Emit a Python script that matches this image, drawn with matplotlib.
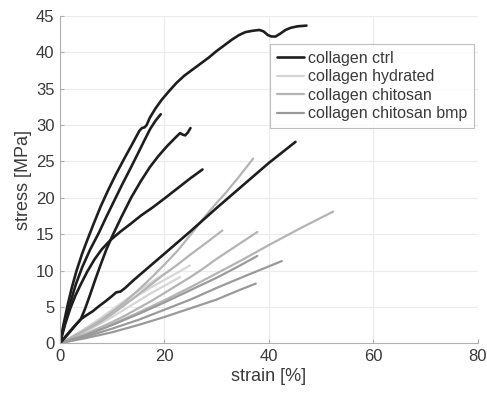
import matplotlib
matplotlib.use("Agg")
import matplotlib.pyplot as plt

plt.rcParams['font.family'] = ['Liberation Sans', 'DejaVu Sans']

# ---- collagen ctrl (strain %, stress MPa) ----
ctrl_a_x = [0, 0.7, 1.5, 2.3, 3.2, 4.2, 5.3, 6.5, 7.8, 9.2, 10.7, 12.4, 13.7, 14.6, 15.2, 15.7,
            16.2, 16.6, 17.2, 18.3, 19.5, 20.8, 22.3, 23.8, 25.3, 27, 28.5, 30, 31.5, 33, 34.3,
            35.5, 37, 38.2, 39, 39.8, 40.5, 41.3, 42.2, 43.2, 44.2, 45.5, 47.2]
ctrl_a_y = [0, 2.6, 5.3, 7.7, 10, 12.2, 14.3, 16.5, 18.8, 21, 23.2, 25.5, 27.2, 28.4, 29.2, 29.6,
            29.7, 30.0, 31.0, 32.3, 33.5, 34.6, 35.8, 36.8, 37.6, 38.5, 39.3, 40.2, 41.0, 41.8, 42.4,
            42.8, 43.0, 43.1, 42.9, 42.4, 42.2, 42.2, 42.6, 43.1, 43.4, 43.6, 43.7]
ctrl_b_x = [0, 0.9, 1.9, 3.0, 4.3, 5.8, 7.4, 8.9, 10.4, 11.9, 13.4, 14.8, 16.1, 17.3, 18.3, 19.3]
ctrl_b_y = [0, 2.6, 5.3, 8, 10.5, 12.9, 15.1, 17.4, 19.6, 21.8, 23.9, 25.9, 27.8, 29.5, 30.6, 31.5]
ctrl_c_x = [0, 2, 4, 4.8, 5.7, 6.7, 7.8, 8.9, 10.2, 11.8, 13.7, 15.5, 17.2, 18.8, 20.5, 22,
            23, 23.5, 24, 24.5, 25]
ctrl_c_y = [0, 1.7, 3.3, 4.7, 6.5, 8.6, 10.8, 12.9, 15, 17.4, 20.1, 22.3, 24.2, 25.7, 27.1, 28.2,
            28.9, 28.7, 28.6, 29.0, 29.6]
ctrl_d_x = [0, 1, 2, 3, 4, 5.2, 6.6, 8, 9.7, 11.5, 13.5, 15.6, 17.8, 20, 22.5, 25, 27.3]
ctrl_d_y = [0, 2.6, 4.8, 6.6, 8.1, 9.8, 11.5, 12.9, 14.2, 15.3, 16.4, 17.6, 18.7, 19.9, 21.3,
            22.7, 23.9]
ctrl_e_x = [0, 1.5, 3, 4, 5, 6.3, 7.5, 8.8, 10.0, 10.8, 11.6, 12.5, 14, 16.1, 20, 25, 30, 35,
            40, 45.1]
ctrl_e_y = [0, 1.2, 2.5, 3.3, 3.8, 4.4, 5.1, 5.8, 6.5, 7.0, 7.1, 7.6, 8.6, 9.9, 12.3, 15.4,
            18.6, 21.7, 24.8, 27.7]

# ---- collagen hydrated ----
hyd_a_x = [0, 2.5, 5, 7.5, 10, 12.5, 15, 17.5, 20, 22.5, 24.9]
hyd_a_y = [0, 0.9, 1.9, 3.0, 4.2, 5.4, 6.6, 7.7, 8.7, 9.7, 10.7]
hyd_b_x = [0, 2.5, 5, 7.5, 10, 12.5, 15, 17.5, 20, 23]
hyd_b_y = [0, 0.7, 1.6, 2.6, 3.6, 4.7, 5.8, 6.9, 7.9, 9.1]
hyd_c_x = [0, 2.5, 5, 7.5, 10, 12.5, 15, 18, 21]
hyd_c_y = [0, 1.0, 2.1, 3.3, 4.6, 5.9, 7.2, 8.6, 10.0]

# ---- collagen chitosan ----
chi_a_x = [0, 2.5, 5, 7.5, 10, 12.5, 15, 17.5, 20, 22.5, 25, 27.4, 29.5, 32, 34.5, 37]
chi_a_y = [0, 0.9, 1.9, 3.0, 4.3, 5.7, 7.3, 9.0, 10.8, 12.7, 14.9, 17.1, 18.9, 20.9, 23.1, 25.4]
chi_b_x = [0, 2.5, 5, 7.5, 10, 12.5, 15, 17.5, 20, 22.5, 25, 28, 31.1]
chi_b_y = [0, 0.8, 1.8, 2.8, 4.0, 5.3, 6.7, 8.1, 9.5, 10.8, 12.2, 13.8, 15.5]
chi_c_x = [0, 2.5, 5, 7.5, 10, 12.5, 15, 17.5, 20, 22.5, 25, 27.5, 30, 34, 37.8]
chi_c_y = [0, 0.6, 1.3, 2.1, 2.9, 3.8, 4.8, 5.8, 6.9, 8.0, 9.1, 10.3, 11.6, 13.5, 15.3]
chi_d_x = [0, 5, 10, 15, 20, 25, 30, 35, 40, 46, 52.3]
chi_d_y = [0, 1.1, 2.6, 4.2, 5.9, 7.7, 9.6, 11.5, 13.5, 15.8, 18.1]

# ---- collagen chitosan bmp ----
bmp_a_x = [0, 5, 10, 15, 20, 25, 30, 34, 37.8]
bmp_a_y = [0, 1.1, 2.5, 4.0, 5.6, 7.3, 9.0, 10.5, 12.0]
bmp_b_x = [0, 5, 10, 15, 20, 25, 30, 36, 42.5]
bmp_b_y = [0, 0.9, 2.0, 3.2, 4.6, 6.0, 7.6, 9.4, 11.3]
bmp_c_x = [0, 5, 10, 15, 20, 25, 30, 34, 37.5]
bmp_c_y = [0, 0.7, 1.5, 2.5, 3.6, 4.8, 6.0, 7.2, 8.2]

groups = [
    ("collagen ctrl", "#1e1e1e",
     [(ctrl_a_x, ctrl_a_y), (ctrl_b_x, ctrl_b_y), (ctrl_c_x, ctrl_c_y),
      (ctrl_d_x, ctrl_d_y), (ctrl_e_x, ctrl_e_y)]),
    ("collagen hydrated", "#d6d6d6",
     [(hyd_a_x, hyd_a_y), (hyd_b_x, hyd_b_y), (hyd_c_x, hyd_c_y)]),
    ("collagen chitosan", "#b4b4b4",
     [(chi_a_x, chi_a_y), (chi_b_x, chi_b_y), (chi_c_x, chi_c_y), (chi_d_x, chi_d_y)]),
    ("collagen chitosan bmp", "#9a9a9a",
     [(bmp_a_x, bmp_a_y), (bmp_b_x, bmp_b_y), (bmp_c_x, bmp_c_y)]),
]

fig = plt.figure(figsize=(4.87, 3.94), dpi=100)
ax = fig.add_axes([0.123, 0.129, 0.858, 0.830])

# gray groups first, ctrl drawn on top
handles = {}
for label, color, curves in groups[1:] + groups[:1]:
    for i, (xs, ys) in enumerate(curves):
        ln, = ax.plot(xs, ys, color=color, lw=1.9 if label == "collagen ctrl" else 1.6,
                      solid_capstyle='round', solid_joinstyle='round')
        if i == 0:
            handles[label] = ln

ax.set_xlim(0, 80)
ax.set_ylim(0, 45)
ax.set_xticks([0, 20, 40, 60, 80])
ax.set_yticks(range(0, 46, 5))
ax.grid(True, color="#ebebeb", lw=0.8)
ax.set_axisbelow(True)
for side in ("top", "right"):
    ax.spines[side].set_visible(False)
for side in ("left", "bottom"):
    ax.spines[side].set_color("#b0b0b0")
    ax.spines[side].set_linewidth(0.8)
ax.tick_params(direction="in", length=3, color="#b0b0b0", labelsize=12,
               labelcolor="#3a3a3a", pad=4)
ax.set_xlabel("strain [%]", fontsize=13, color="#3a3a3a", labelpad=3)
ax.set_ylabel("stress [MPa]", fontsize=13, color="#3a3a3a", labelpad=3)

order = [g[0] for g in groups]
leg = ax.legend([handles[k] for k in order], order, loc="upper right",
                bbox_to_anchor=(0.99, 0.914), fontsize=11.5, frameon=True,
                fancybox=False, edgecolor="#b0b0b0", handlelength=1.7,
                handletextpad=0.25, labelspacing=0.22, borderpad=0.4,
                borderaxespad=0)
leg.get_frame().set_linewidth(0.8)
for t in leg.get_texts():
    t.set_color("#3a3a3a")

fig.savefig("out.png", dpi=100)
